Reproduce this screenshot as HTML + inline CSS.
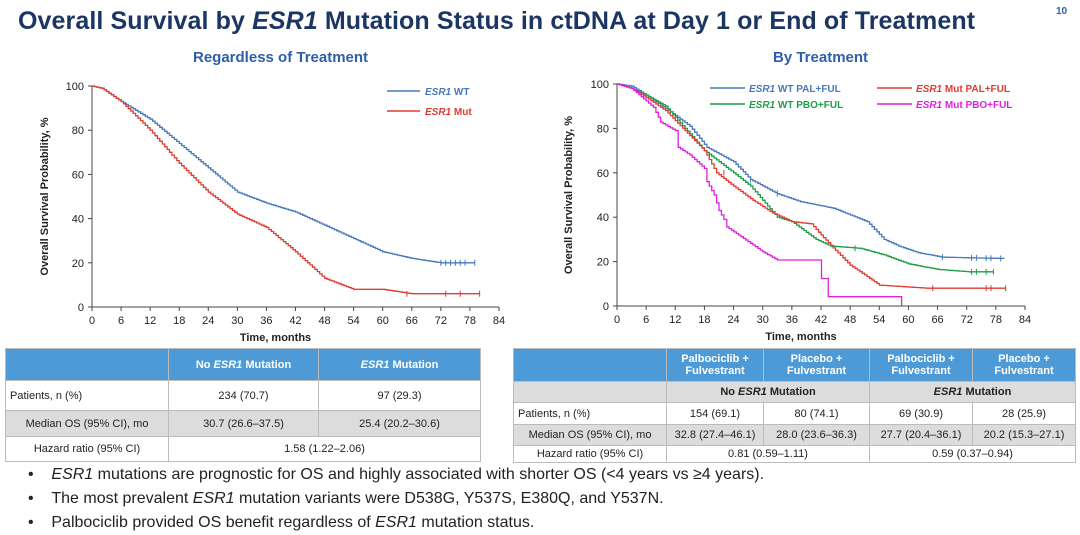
<!DOCTYPE html>
<html><head><meta charset="utf-8"><style>
body{margin:0;width:1080px;height:533px;background:#fff;font-family:"Liberation Sans",Arial,sans-serif;position:relative;overflow:hidden}
.t{position:absolute;white-space:nowrap}
table{position:absolute;border-collapse:collapse;font-size:11px;color:#222}
td{border:1px solid #bbb;text-align:center;padding:0}
.h td{background:#4e9ad6;color:#fff;font-weight:bold}
.g td{background:#dcdcdc}
.bl{text-align:left;padding-left:4px}
</style></head><body>
<div class="t" style="left:18px;top:7px;font-size:25px;font-weight:bold;color:#1c3664;letter-spacing:0.1px">Overall Survival by <i>ESR1</i> Mutation Status in ctDNA at Day 1 or End of Treatment</div>
<div class="t" style="left:1056px;top:6px;font-size:10px;font-weight:bold;color:#2e5fa8">10</div>
<div class="t" style="left:193px;top:49px;font-size:15px;font-weight:bold;color:#2e5fa8">Regardless of Treatment</div>
<div class="t" style="left:773px;top:49px;font-size:15px;font-weight:bold;color:#2e5fa8">By Treatment</div>
<svg id="s" width="1080" height="345" style="position:absolute;left:0;top:0" font-family="Liberation Sans, Arial, sans-serif"></svg>
<table style="left:5px;top:348px;width:476px">
<tr class="h" style="height:32px"><td style="width:162px"></td><td style="width:149px">No <i>ESR1</i> Mutation</td><td><i>ESR1</i> Mutation</td></tr>
<tr style="height:30px"><td class="bl">Patients, n (%)</td><td>234 (70.7)</td><td>97 (29.3)</td></tr>
<tr class="g" style="height:26px"><td>Median OS (95% CI), mo</td><td>30.7 (26.6–37.5)</td><td>25.4 (20.2–30.6)</td></tr>
<tr style="height:25px"><td>Hazard ratio (95% CI)</td><td colspan="2">1.58 (1.22–2.06)</td></tr>
</table>
<table style="left:513px;top:348px;width:563px">
<tr class="h" style="height:33px"><td style="width:152px"></td><td style="width:96px">Palbociclib +<br>Fulvestrant</td><td style="width:105px">Placebo +<br>Fulvestrant</td><td style="width:102px">Palbociclib +<br>Fulvestrant</td><td>Placebo +<br>Fulvestrant</td></tr>
<tr class="g" style="height:21px;font-weight:bold"><td></td><td colspan="2">No <i>ESR1</i> Mutation</td><td colspan="2"><i>ESR1</i> Mutation</td></tr>
<tr style="height:22px"><td class="bl">Patients, n (%)</td><td>154 (69.1)</td><td>80 (74.1)</td><td>69 (30.9)</td><td>28 (25.9)</td></tr>
<tr class="g" style="height:21px"><td>Median OS (95% CI), mo</td><td>32.8 (27.4–46.1)</td><td>28.0 (23.6–36.3)</td><td>27.7 (20.4–36.1)</td><td>20.2 (15.3–27.1)</td></tr>
<tr style="height:17px"><td>Hazard ratio (95% CI)</td><td colspan="2">0.81 (0.59–1.11)</td><td colspan="2">0.59 (0.37–0.94)</td></tr>
</table>
<div style="position:absolute;left:28px;top:463px;font-size:16px;color:#222;line-height:24px">
<div>•&nbsp;&nbsp;&nbsp;&nbsp;<i>ESR1</i> mutations are prognostic for OS and highly associated with shorter OS (&lt;4 years vs ≥4 years).</div>
<div>•&nbsp;&nbsp;&nbsp;&nbsp;The most prevalent <i>ESR1</i> mutation variants were D538G, Y537S, E380Q, and Y537N.</div>
<div>•&nbsp;&nbsp;&nbsp;&nbsp;Palbociclib provided OS benefit regardless of <i>ESR1</i> mutation status.</div>
</div>
<script>
const s=document.getElementById('s');let h='';
function axes(x0,x1,y0,y1,lx){
 h+=`<line x1="${x0}" y1="${y1}" x2="${x0}" y2="${y0}" stroke="#444"/><line x1="${x0}" y1="${y0}" x2="${x1}" y2="${y0}" stroke="#444"/>`;
 for(let m=0;m<=84;m+=6){let x=x0+(x1-x0)*m/84;h+=`<line x1="${x}" y1="${y0}" x2="${x}" y2="${y0+4}" stroke="#444"/><text x="${x}" y="${y0+17}" font-size="11" text-anchor="middle" fill="#222">${m}</text>`;}
 for(let p=0;p<=100;p+=20){let y=y0+(y1-y0)*p/100;h+=`<line x1="${x0-4}" y1="${y}" x2="${x0}" y2="${y}" stroke="#444"/><text x="${x0-8}" y="${y+4}" font-size="11" text-anchor="end" fill="#222">${p}</text>`;}
 h+=`<text x="${(x0+x1)/2-20}" y="${y0+34}" font-size="11" font-weight="bold" text-anchor="middle" fill="#222">Time, months</text>`;
 h+=`<text transform="translate(${lx},${(y0+y1)/2}) rotate(-90)" font-size="11" font-weight="bold" text-anchor="middle" fill="#222">Overall Survival Probability, %</text>`;
}
function curve(x0,x1,y0,y1,pts,col,cens){
 const X=m=>x0+(x1-x0)*m/84,Y=p=>y0+(y1-y0)*p/100;
 let d=`M${X(0)},${Y(100)}`;
 for(let i=1;i<pts.length;i++){const [ma,pa]=pts[i-1],[mb,pb]=pts[i];const n=Math.max(1,Math.round((mb-ma)/0.5));
  for(let k=1;k<=n;k++){const m=ma+(mb-ma)*k/n,p=pa+(pb-pa)*k/n;d+=`H${X(m).toFixed(1)}V${Y(p).toFixed(1)}`;}}
 h+=`<path d="${d}" fill="none" stroke="${col}" stroke-width="1.3"/>`;
 (cens||[]).forEach(c=>{const x=X(c[0]),y=Y(c[1]);h+=`<line x1="${x}" y1="${y-3}" x2="${x}" y2="${y+3}" stroke="${col}"/>`;});
}
axes(92,499,307,86,48);
curve(92,499,307,86,[[0,100],[2,99],[6,93],[12,85],[18,74],[24,63],[30,52],[36,47],[42,43],[48,37],[54,31],[60,25],[66,22],[72,20],[79,20]],'#4a78bd',[[72,20],[73,20],[74,20],[75,20],[76,20],[77,20],[79,20]]);
curve(92,499,307,86,[[0,100],[2,99],[6,93],[12,80],[18,65],[24,52],[30,42],[36,36],[42,25],[48,13],[54,8],[60,8],[66,6],[80,6]],'#e03c31',[[65,6],[73,6],[76,6],[80,6]]);
h+=`<line x1="387" y1="91" x2="420" y2="91" stroke="#4a78bd" stroke-width="1.5"/><text x="425" y="95" font-size="10" font-weight="bold" fill="#4a78bd"><tspan font-style="italic">ESR1</tspan> WT</text>`;
h+=`<line x1="387" y1="111" x2="420" y2="111" stroke="#e03c31" stroke-width="1.5"/><text x="425" y="115" font-size="10" font-weight="bold" fill="#e03c31"><tspan font-style="italic">ESR1</tspan> Mut</text>`;
axes(617,1025,306,84,572);
const R=[617,1025,306,84];
curve(...R,[[0,100],[3,99],[6,95],[10,89],[15,81],[18.5,71.5],[24,65],[27.5,57],[33,50.6],[37.8,47],[44.6,44],[51.5,38],[55,30],[58,27],[62,24],[67,22],[73,21.7],[79.7,21.4]],'#4a78bd',[[27.5,57],[33,50.6],[67,22],[73,21.7],[74,21.7],[76,21.5],[77,21.5],[79,21.4]]);
curve(...R,[[0,100],[3,98],[6,95],[10,90],[14,80],[18,70],[24,60],[27.5,54],[30,47.6],[33,40],[36,38],[41,30],[44,27],[50,26],[55,23],[60,19],[66,16.5],[72.5,15.4],[77.5,15.4]],'#1f9e48',[[49,26],[73,15.4],[74,15.4],[76,15.4],[77.5,15.4]]);
curve(...R,[[0,100],[3,98],[6,94],[10,88],[14,79],[18,70],[20.5,60],[24,54],[28,47.6],[32,42],[36,38],[40,37],[42,32],[45,25],[48,18.4],[51,14],[54,9.4],[64,8],[80,8]],'#e03c31',[[22,60],[65,8],[76,8],[77,8],[80,8]]);
curve(...R,[[0,100],[3,98],[7.5,89.5],[9,82.8],[12,79],[12.6,71.5],[15,68],[18,62],[18.5,56],[20,50],[21,43],[22,39],[22.6,35.6],[27,29],[30,24.4],[33,20.7],[42,20.7],[42.1,12.4],[43,12.4],[43.5,4.2],[58.5,4.2],[58.6,0]],'#e020e0');
const lg=[[710,88,'#4a78bd','WT PAL+FUL'],[877,88,'#e03c31','Mut PAL+FUL'],[710,104,'#1f9e48','WT PBO+FUL'],[877,104,'#e020e0','Mut PBO+FUL']];
lg.forEach(l=>{h+=`<line x1="${l[0]}" y1="${l[1]}" x2="${l[0]+35}" y2="${l[1]}" stroke="${l[2]}" stroke-width="1.5"/><text x="${l[0]+39}" y="${l[1]+4}" font-size="10" font-weight="bold" fill="${l[2]}"><tspan font-style="italic">ESR1</tspan> ${l[3]}</text>`;});
s.innerHTML=h;
</script>
</body></html>
